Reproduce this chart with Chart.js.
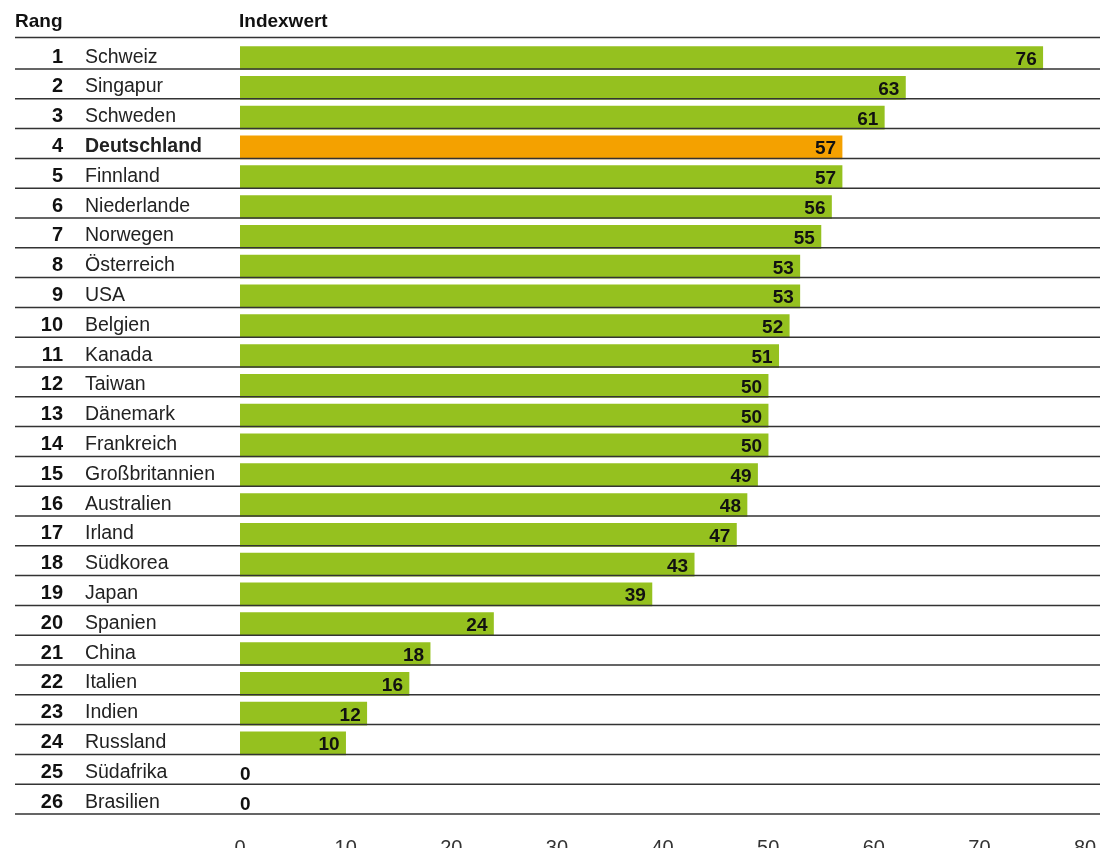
<!DOCTYPE html>
<html>
<head>
<meta charset="utf-8">
<script src="https://cdn.jsdelivr.net/npm/chart.js@4"></script>
<style>
  body { margin: 0; background: #fff; }
  canvas { display: block; }
</style>
</head>
<body>
<canvas id="Index" width="1100" height="857"></canvas>
<script>
const ranks = [1, 2, 3, 4, 5, 6, 7, 8, 9, 10, 11, 12, 13, 14, 15, 16, 17, 18, 19, 20, 21, 22, 23, 24, 25, 26];
const countries = ["Schweiz", "Singapur", "Schweden", "Deutschland", "Finnland", "Niederlande", "Norwegen",
  "Österreich", "USA", "Belgien", "Kanada", "Taiwan", "Dänemark", "Frankreich", "Großbritannien",
  "Australien", "Irland", "Südkorea", "Japan", "Spanien", "China", "Italien", "Indien", "Russland",
  "Südafrika", "Brasilien"];
const indexValues = [76, 63, 61, 57, 57, 56, 55, 53, 53, 52, 51, 50, 50, 50, 49, 48, 47, 43, 39, 24, 18, 16, 12, 10, 0, 0];
const highlight = "Deutschland";

const GREEN = "#95c11f";
const ORANGE = "#f4a100";
const FONT = "'Liberation Sans', Arial, sans-serif";

// Zeilenlinien, Rang, Land und Wert zeichnen
const tablePlugin = {
  id: 'table',
  afterDatasetsDraw(chart) {
    const ctx = chart.ctx;
    const x = chart.scales.x;
    const y = chart.scales.y;
    const meta = chart.getDatasetMeta(0);
    ctx.save();

    ctx.strokeStyle = "#333";
    ctx.lineWidth = 1.5;
    ctx.beginPath();
    let top = y.getPixelForValue(0) - 20.5;
    ctx.moveTo(15, top);
    ctx.lineTo(1100, top);
    for (let i = 0; i < countries.length; i++) {
      let ly = y.getPixelForValue(i) + 11;
      ctx.moveTo(15, ly);
      ctx.lineTo(1100, ly);
    }
    ctx.stroke();

    ctx.fillStyle = "#111";
    ctx.font = "bold 19px " + FONT;
    ctx.textAlign = "left";
    ctx.textBaseline = "alphabetic";
    ctx.fillText("Rang", 15, 26.5);
    ctx.fillText("Indexwert", x.getPixelForValue(0) - 1, 26.5);

    for (let i = 0; i < countries.length; i++) {
      let cy = y.getPixelForValue(i) + 4.5;
      ctx.fillStyle = "#111";
      ctx.font = "bold 20px " + FONT;
      ctx.textAlign = "right";
      ctx.fillText(ranks[i], 63, cy);

      ctx.fillStyle = "#222";
      ctx.font = (countries[i] === highlight ? "bold " : "") + "19.5px " + FONT;
      ctx.textAlign = "left";
      ctx.fillText(countries[i], 85, cy);

      ctx.fillStyle = "#111";
      ctx.font = "bold 19px " + FONT;
      let bar = meta.data[i];
      if (indexValues[i] > 0) {
        ctx.textAlign = "right";
        ctx.fillText(indexValues[i], bar.x - 6, y.getPixelForValue(i) + 7);
      } else {
        ctx.textAlign = "left";
        ctx.fillText(indexValues[i], x.getPixelForValue(0), y.getPixelForValue(i) + 7);
      }
    }
    ctx.restore();
  }
};

window.addEventListener('load', function () {
  let context = document.querySelector("#Index").getContext('2d');
  new Chart(context, {
    type: 'bar',
    data: {
      labels: countries,
      datasets: [{
        data: indexValues,
        backgroundColor: countries.map((c, i) => indexValues[i] === 0 ? "rgba(0,0,0,0)" : (c === highlight ? ORANGE : GREEN)),
        barThickness: 23,
        borderWidth: 0
      }]
    },
    options: {
      indexAxis: 'y',
      responsive: false,
      animation: false,
      layout: { padding: { left: 240, right: 15, top: 43.1, bottom: 9.1 } },
      plugins: { legend: { display: false }, tooltip: { enabled: false } },
      scales: {
        y: { display: false },
        x: {
          min: 0,
          max: 80,
          grid: { display: false, drawTicks: false },
          border: { display: false },
          ticks: { stepSize: 10, padding: 19, color: "#333", font: { family: FONT, size: 20 } },
          afterFit: function (scale) {
            scale.height = 30;
            scale.paddingLeft = 0;
            scale.paddingRight = 0;
          }
        }
      }
    },
    plugins: [tablePlugin]
  });
});
</script>
</body>
</html>
